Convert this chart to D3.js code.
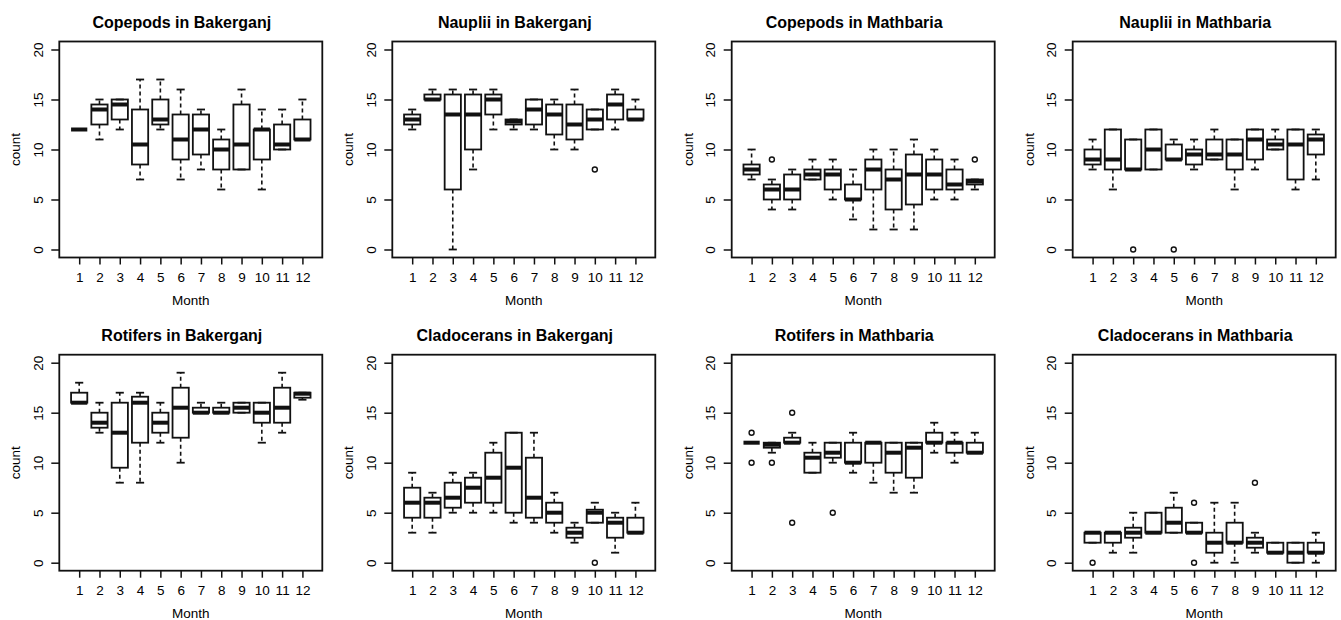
<!DOCTYPE html>
<html>
<head>
<meta charset="utf-8">
<script src="https://cdn.jsdelivr.net/npm/d3@7"></script>
<style>
  body { margin: 0; background: #fff; }
  svg { display: block; }
  text { font-family: "Liberation Sans", Arial, Helvetica, sans-serif; fill: #000; }
</style>
</head>
<body>
<svg id="chart" width="1341" height="620"></svg>
<script>
// ---------- DATA ----------
const months = [1, 2, 3, 4, 5, 6, 7, 8, 9, 10, 11, 12];
const yTicks = [0, 5, 10, 15, 20];
const titles = [
  "Copepods in Bakerganj", "Nauplii in Bakerganj", "Copepods in Mathbaria", "Nauplii in Mathbaria",
  "Rotifers in Bakerganj", "Cladocerans in Bakerganj", "Rotifers in Mathbaria", "Cladocerans in Mathbaria"
];
const xLabel = "Month";
const yLabel = "count";

// one row per month: [lower whisker, Q1, median, Q3, upper whisker]
const copepodsBakerganj = [
  [12, 12, 12, 12, 12], [11, 12.5, 14, 14.5, 15], [12, 13, 14.5, 15, 15], [7, 8.5, 10.5, 14, 17],
  [12, 12.5, 13, 15, 17], [7, 9, 11, 13.5, 16], [8, 9.5, 12, 13.5, 14], [6, 8, 10, 11, 12],
  [8, 8, 10.5, 14.5, 16], [6, 9, 12, 12, 14], [10, 10, 10.5, 12.5, 14], [11, 11, 11, 13, 15]
];
const copepodsBakerganjOut = [];

const naupliiBakerganj = [
  [12, 12.5, 13, 13.5, 14], [15, 15, 15, 15.5, 16], [0, 6, 13.5, 15.5, 16], [8, 10, 13.5, 15.5, 16],
  [12, 13.5, 15, 15.5, 16], [12, 12.5, 12.8, 13, 13], [12, 12.5, 14, 15, 15], [10, 11.5, 13.5, 14.5, 15],
  [10, 11, 12.5, 14.5, 16], [12, 12, 13, 14, 14], [12, 13, 14.5, 15.5, 16], [13, 13, 13, 14, 15]
];
const naupliiBakerganjOut = [[10, 8]];

const copepodsMathbaria = [
  [7, 7.5, 8, 8.5, 10], [4, 5, 6, 6.5, 7], [4, 5, 6, 7.5, 8], [7, 7, 7.5, 8, 9],
  [5, 6, 7.5, 8, 9], [3, 5, 5, 6.5, 8], [2, 6, 8, 9, 10], [2, 4, 7, 8, 10],
  [2, 4.5, 7.5, 9.5, 11], [5, 6, 7.5, 9, 10], [5, 6, 6.5, 8, 9], [6, 6.5, 6.8, 7, 7]
];
const copepodsMathbariaOut = [[2, 9], [12, 9]];

const naupliiMathbaria = [
  [8, 8.5, 9, 10, 11], [6, 8, 9, 12, 12], [8, 8, 8, 11, 11], [8, 8, 10, 12, 12],
  [9, 9, 9, 10.5, 11], [8, 8.5, 9.5, 10, 11], [9, 9, 9.5, 11, 12], [6, 8, 9.5, 11, 11],
  [8, 9, 11, 12, 12], [10, 10, 10.5, 11, 12], [6, 7, 10.5, 12, 12], [7, 9.5, 11, 11.5, 12]
];
const naupliiMathbariaOut = [[3, 0], [5, 0]];

const rotifersBakerganj = [
  [16, 16, 16, 17, 18], [13, 13.5, 14, 15, 16], [8, 9.5, 13, 16, 17], [8, 12, 16, 16.6, 17],
  [12, 13, 14, 15, 16], [10, 12.5, 15.5, 17.5, 19], [15, 15, 15, 15.5, 16], [15, 15, 15, 15.5, 16],
  [15, 15, 15.5, 16, 16], [12, 14, 15, 16, 16], [13, 14, 15.5, 17.5, 19], [16.3, 16.5, 16.9, 17, 17]
];
const rotifersBakerganjOut = [];

const cladoceransBakerganj = [
  [3, 4.5, 6, 7.5, 9], [3, 4.5, 6, 6.5, 7], [5, 5.5, 6.5, 8, 9], [5, 6, 7.5, 8.5, 9],
  [5, 6, 8.5, 11, 12], [4, 5, 9.5, 13, 13], [4, 4.5, 6.5, 10.5, 13], [3, 4, 5, 6, 7],
  [2, 2.5, 3, 3.5, 4], [4, 4, 5, 5.3, 6], [1, 2.5, 4, 4.5, 5], [3, 3, 3, 4.5, 6]
];
const cladoceransBakerganjOut = [[10, 0]];

const rotifersMathbaria = [
  [12, 12, 12, 12, 12], [11, 11.5, 11.8, 12, 12], [12, 12, 12, 12.5, 13], [9, 9, 10.5, 11, 12],
  [10, 10.5, 11, 12, 12], [9, 10, 10, 12, 13], [8, 10, 12, 12, 12], [7, 9, 11, 12, 12],
  [7, 8.5, 11.5, 12, 12], [11, 12, 12, 13, 14], [10, 11, 12, 12, 13], [11, 11, 11, 12, 13]
];
const rotifersMathbariaOut = [[1, 13], [1, 10], [2, 10], [3, 15], [3, 4], [5, 5]];

const cladoceransMathbaria = [
  [2, 2, 3, 3, 3], [1, 2, 3, 3, 3], [1, 2.5, 3, 3.5, 5], [3, 3, 3, 5, 5],
  [3, 3, 4, 5.5, 7], [3, 3, 3, 4, 4], [0, 1, 2, 3, 6], [0, 2, 2, 4, 6],
  [1, 1.5, 2, 2.5, 3], [1, 1, 1, 2, 2], [0, 0, 1, 2, 2], [0, 1, 1, 2, 3]
];
const cladoceransMathbariaOut = [[1, 0], [6, 6], [6, 0], [9, 8]];

const panels = [
  { title: titles[0], stats: copepodsBakerganj, out: copepodsBakerganjOut },
  { title: titles[1], stats: naupliiBakerganj, out: naupliiBakerganjOut },
  { title: titles[2], stats: copepodsMathbaria, out: copepodsMathbariaOut },
  { title: titles[3], stats: naupliiMathbaria, out: naupliiMathbariaOut },
  { title: titles[4], stats: rotifersBakerganj, out: rotifersBakerganjOut },
  { title: titles[5], stats: cladoceransBakerganj, out: cladoceransBakerganjOut },
  { title: titles[6], stats: rotifersMathbaria, out: rotifersMathbariaOut },
  { title: titles[7], stats: cladoceransMathbaria, out: cladoceransMathbariaOut }
];

// ---------- LAYOUT ----------
const colLeft = [59.3, 392.3, 731.7, 1072.7];
const plotW = 263;
const rowZero = [249.5, 562.7];   // pixel row of value 0
const unitPx = 10;                // pixels per count unit
const ink = "#111";
const fontSize = 13.5;

const svg = d3.select("#chart");

panels.forEach((p, i) => {
  const col = i % 4, row = Math.floor(i / 4);
  const left = colLeft[col];
  const x = d3.scaleLinear().domain([0.02, 12.98]).range([left, left + plotW]);
  const y = d3.scaleLinear().domain([0, 20]).range([rowZero[row], rowZero[row] - 20 * unitPx]);
  const u = x(1) - x(0);
  const g = svg.append("g");

  const top = y(20.8), bottom = y(-0.8);

  // whiskers (dashed)
  g.selectAll(".wu").data(p.stats).join("line")
    .attr("x1", (d, k) => x(months[k])).attr("x2", (d, k) => x(months[k]))
    .attr("y1", d => y(d[3])).attr("y2", d => y(d[4]))
    .attr("stroke", ink).attr("stroke-width", 1.6).attr("stroke-dasharray", "4,3");
  g.selectAll(".wl").data(p.stats).join("line")
    .attr("x1", (d, k) => x(months[k])).attr("x2", (d, k) => x(months[k]))
    .attr("y1", d => y(d[1])).attr("y2", d => y(d[0]))
    .attr("stroke", ink).attr("stroke-width", 1.6).attr("stroke-dasharray", "4,3");
  // staples
  [0, 4].forEach(idx => {
    g.selectAll(".st" + idx).data(p.stats).join("line")
      .attr("x1", (d, k) => x(months[k] - 0.2)).attr("x2", (d, k) => x(months[k] + 0.2))
      .attr("y1", d => y(d[idx])).attr("y2", d => y(d[idx]))
      .attr("stroke", ink).attr("stroke-width", 1.8);
  });
  // boxes
  g.selectAll(".box").data(p.stats).join("rect")
    .attr("x", (d, k) => x(months[k] - 0.4)).attr("width", 0.8 * u)
    .attr("y", d => y(d[3])).attr("height", d => Math.max(0, y(d[1]) - y(d[3])))
    .attr("fill", "none").attr("stroke", ink).attr("stroke-width", 1.8);
  // medians
  g.selectAll(".med").data(p.stats).join("line")
    .attr("x1", (d, k) => x(months[k] - 0.4)).attr("x2", (d, k) => x(months[k] + 0.4))
    .attr("y1", d => y(d[2])).attr("y2", d => y(d[2]))
    .attr("stroke", ink).attr("stroke-width", 4);
  // outliers
  g.selectAll(".out").data(p.out).join("circle")
    .attr("cx", d => x(d[0])).attr("cy", d => y(d[1])).attr("r", 2.5)
    .attr("fill", "none").attr("stroke", ink).attr("stroke-width", 1.4);

  // frame
  g.append("rect").attr("x", x(0.02)).attr("y", top)
    .attr("width", plotW).attr("height", bottom - top)
    .attr("fill", "none").attr("stroke", ink).attr("stroke-width", 1.8);

  // x axis
  g.append("g").attr("transform", `translate(0,${bottom})`)
    .call(d3.axisBottom(x).tickValues(months).tickFormat(d3.format("d")).tickSize(7).tickSizeOuter(0))
    .call(a => a.select(".domain").remove())
    .call(a => a.selectAll("line").attr("stroke", ink).attr("stroke-width", 1.5))
    .call(a => a.selectAll("text").attr("y", 24.2).attr("dy", null)
      .attr("font-size", fontSize).attr("fill", "#000")
      .style("font-family", '"Liberation Sans", Arial, sans-serif'));

  // y axis
  g.append("g").attr("transform", `translate(${left},0)`)
    .call(d3.axisLeft(y).tickValues(yTicks).tickFormat(d3.format("d")).tickSize(8).tickSizeOuter(0))
    .call(a => a.select(".domain").remove())
    .call(a => a.selectAll("line").attr("stroke", ink).attr("stroke-width", 1.5))
    .call(a => a.selectAll("text").attr("x", 0).attr("dy", null)
      .attr("text-anchor", "middle").attr("transform", "translate(-16.6,0) rotate(-90)")
      .attr("font-size", fontSize).attr("fill", "#000")
      .style("font-family", '"Liberation Sans", Arial, sans-serif'));

  // axis titles
  g.append("text").attr("x", left + plotW / 2).attr("y", bottom + 47.5)
    .attr("text-anchor", "middle").attr("font-size", fontSize).text(xLabel);
  g.append("text")
    .attr("transform", `translate(${left - 39},${(top + bottom) / 2}) rotate(-90)`)
    .attr("text-anchor", "middle").attr("font-size", fontSize).text(yLabel);

  // panel title
  g.append("text").attr("x", left + plotW / 2 - 9).attr("y", top - 14)
    .attr("text-anchor", "middle").attr("font-size", 16).attr("font-weight", "bold")
    .text(p.title);
});
</script>
</body>
</html>
